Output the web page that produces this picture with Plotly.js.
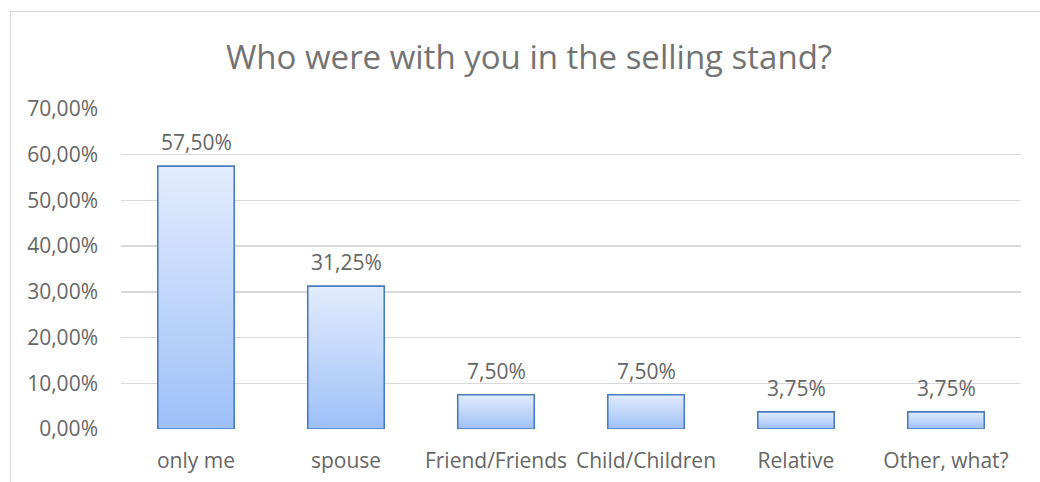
<!DOCTYPE html>
<html>
<head>
<meta charset="utf-8">
<script src="https://cdn.plot.ly/plotly-3.0.1.min.js"></script>
<style>
  html, body { margin: 0; padding: 0; background: #ffffff; overflow: hidden; }
  #frame { position: absolute; left: 10px; top: 11px; width: 1100px; height: 600px;
           border-left: 1px solid #d9d9d9; border-top: 1px solid #d9d9d9; }
  #chart { position: absolute; left: 0; top: 0; width: 1040px; height: 482px; }
</style>
</head>
<body>
<div id="frame"></div>
<div id="chart"></div>
<script>
const categories = ["only me", "spouse", "Friend/Friends", "Child/Children", "Relative", "Other, what?"];
const shares = [0.575, 0.3125, 0.075, 0.075, 0.0375, 0.0375];
const titleText = "Who were with you in the selling stand?";
const yTicks = [0, 0.1, 0.2, 0.3, 0.4, 0.5, 0.6, 0.7];

const FONT = "Open Sans, Lato, sans-serif";
const GREY = "#666666";
const TITLE_GREY = "#737373";
const halfW = 0.255;

function pct(v) { return (v * 100).toFixed(2).replace(".", ",") + "%"; }

const traces = [];
categories.forEach((c, i) => {
  const v = shares[i];
  traces.push({
    type: "scatter",
    mode: "lines",
    x: [i - halfW, i - halfW, i + halfW, i + halfW, i - halfW],
    y: [0, v, v, 0, 0],
    fill: "toself",
    fillgradient: {
      type: "vertical",
      colorscale: [[0, "#9ec0f8"], [1, "#e2ecfd"]]
    },
    line: { color: "#4a7bc2", width: 1.6 },
    hoverinfo: "skip",
    showlegend: false
  });
});

const annotations = categories.map((c, i) => ({
  x: i, y: shares[i], xref: "x", yref: "y",
  text: pct(shares[i]),
  showarrow: false,
  xanchor: "center", yanchor: "bottom",
  yshift: 8,
  font: { family: FONT, size: 21, color: GREY }
}));

const layout = {
  width: 1040,
  height: 482,
  paper_bgcolor: "rgba(0,0,0,0)",
  plot_bgcolor: "rgba(0,0,0,0)",
  separators: ",.",
  margin: { l: 121, r: 19, t: 109, b: 53 },
  title: {
    text: titleText,
    font: { family: FONT, size: 33, color: TITLE_GREY },
    xref: "container", x: 529 / 1040, xanchor: "center",
    yref: "container", y: 1 - 57 / 482, yanchor: "middle"
  },
  annotations: annotations,
  xaxis: {
    range: [-0.5, 5.5],
    tickmode: "array",
    tickvals: categories.map((c, i) => i),
    ticktext: categories,
    showgrid: false,
    zeroline: false,
    showline: false,
    ticks: "",
    ticklabelstandoff: 17,
    tickfont: { family: FONT, size: 21, color: GREY },
    fixedrange: true
  },
  yaxis: {
    range: [0, 0.7],
    tickmode: "array",
    tickvals: yTicks,
    tickformat: ".2%",
    showgrid: true,
    gridcolor: "#d9d9d9",
    gridwidth: 1.3,
    zeroline: false,
    showline: false,
    ticks: "",
    ticklabelstandoff: 22,
    tickfont: { family: FONT, size: 21, color: GREY },
    fixedrange: true
  },
  showlegend: false
};

Plotly.newPlot("chart", traces, layout, { displayModeBar: false, staticPlot: true });
</script>
</body>
</html>
